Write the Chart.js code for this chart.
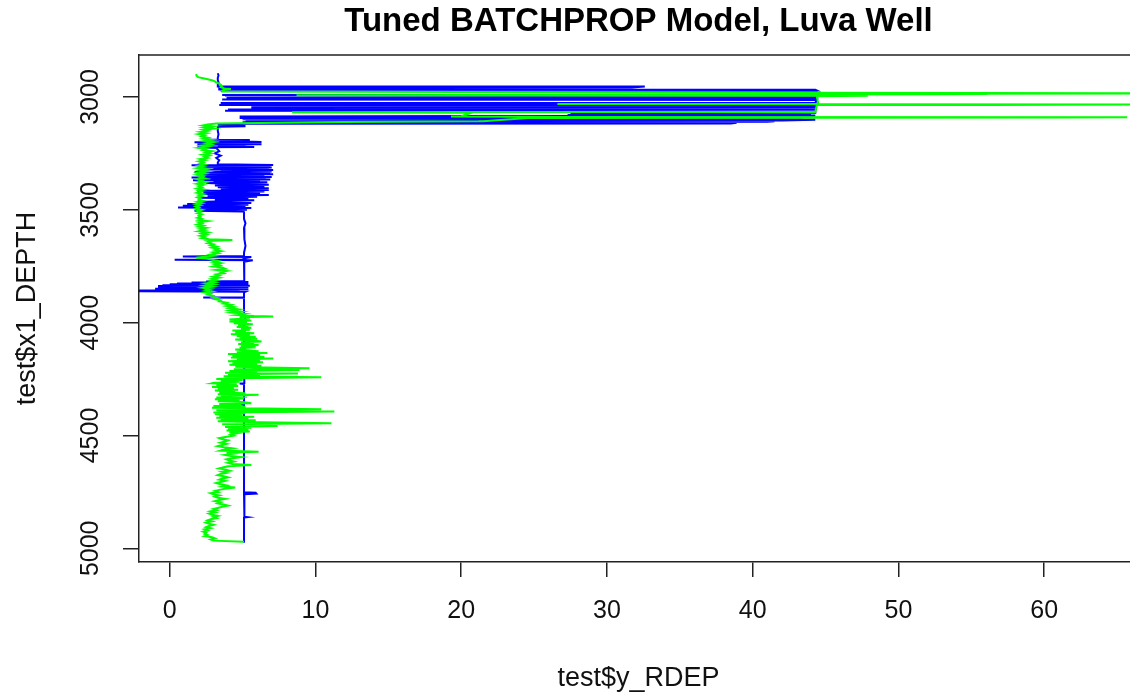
<!DOCTYPE html>
<html><head><meta charset="utf-8">
<script src="https://cdn.jsdelivr.net/npm/chart.js@4.4.1/dist/chart.umd.min.js"></script>
<style>
html,body{margin:0;padding:0;background:#fff;overflow:hidden;}
#wrap{width:1130px;height:695px;overflow:hidden;position:relative;background:#fff;}
canvas{display:block;}
</style></head><body>
<div id="wrap"><canvas id="c" width="1138" height="695"></canvas></div>
<script>
const chartTitle = 'Tuned BATCHPROP Model, Luva Well';
const xLabel = 'test$y_RDEP';
const yLabel = 'test$x1_DEPTH';
const xTicks = [0, 10, 20, 30, 40, 50, 60];
const yTicks = [3000, 3500, 4000, 4500, 5000];

const blueDepth = [
2895,2905,2915,2925,2935,2945,2953,2954,2958,2960,
2967,2968,2971,2972,2973,2980,2990,2991,2993,2995,
2997,2999,3001,3003,3005,3007,3009,3011,3013,3025,
3027,3029,3031,3033,3035,3037,3039,3041,3043,3045,
3047,3049,3051,3053,3055,3057,3059,3061,3063,3070,
3072,3075,3078,3080,3082,3084,3086,3088,3090,3093,
3095,3097,3099,3101,3104,3106,3108,3110,3112,3114,
3117,3119,3122,3125,3127,3130,3132,3150,3165,3180,
3188,3190,3191,3194,3199,3201,3204,3206,3209,3211,
3213,3216,3222,3223,3226,3240,3250,3260,3270,3280,
3290,3298,3301,3303,3306,3309,3312,3315,3318,3321,
3323,3326,3330,3333,3336,3339,3342,3345,3348,3351,
3354,3357,3360,3363,3366,3369,3372,3375,3378,3381,
3385,3389,3392,3396,3400,3404,3408,3412,3415,3419,
3422,3426,3430,3434,3438,3442,3446,3450,3456,3458,
3465,3470,3474,3478,3482,3486,3490,3492,3496,3500,
3504,3507,3510,3540,3560,3580,3600,3630,3660,3690,
3705,3707,3709,3715,3720,3721,3723,3730,3760,3790,
3815,3818,3820,3822,3824,3826,3828,3830,3832,3834,
3836,3838,3840,3842,3844,3846,3848,3850,3852,3854,
3856,3858,3861,3863,3866,3888,3889,3891,3960,3975,
4000,4040,4080,4130,4200,4268,4270,4272,4360,4362,
4364,4500,4600,4700,4752,4754,4758,4760,4800,4860,
4862,4864,4900,4975
];
const blueRdep = [
3.3,3.35,3.3,3.3,3.35,3.3,3.3,32.6,31.7,3.4,
3.4,44.3,44.4,3.5,44.2,44.4,44.5,3.6,44.4,3.8,
44.3,4.2,44.4,3.9,44.5,4.0,44.3,3.6,44.4,44.3,
3.5,44.4,4.5,40.0,3.4,44.4,5.6,44.3,5.8,44.4,
5.6,44.2,5.7,44.4,4.0,42.7,39.5,3.8,44.3,44.3,
27.5,44.0,43.4,27.3,44.3,20.7,4.8,43.4,44.3,4.8,
43.4,31.4,5.0,44.3,42.0,5.2,41.5,41.0,5.0,38.9,
38.5,5.3,3.3,5.2,3.3,5.2,3.3,3.3,3.35,3.3,
3.3,2.7,5.5,3.4,6.3,1.7,6.0,2.0,6.3,1.9,
5.2,3.3,5.8,1.9,3.2,3.4,3.1,3.5,3.2,3.4,
3.3,3.3,7.1,1.5,6.9,2.0,7.0,3.0,6.8,2.2,
7.1,3.5,7.0,1.7,6.9,2.5,7.1,1.9,6.5,2.4,
7.0,1.5,6.6,2.8,6.9,1.6,6.2,3.0,6.7,2.5,
4.0,6.8,3.1,6.5,3.3,6.8,3.5,6.8,1.9,6.5,
2.3,6.2,2.0,6.8,2.6,6.0,2.0,5.4,3.1,5.8,
2.0,5.6,1.2,5.4,0.9,5.2,0.57,5.6,1.8,5.3,
1.7,5.0,5.1,5.1,5.2,5.1,5.15,5.1,5.2,5.1,
5.1,0.9,5.6,5.1,5.2,0.34,5.7,5.1,5.15,5.1,
5.1,2.5,5.4,1.5,5.3,0.5,5.4,0.0,5.2,-0.5,
5.5,-0.8,5.3,-0.6,5.4,-0.8,5.2,-1.0,5.4,-0.5,
4.8,-2.1,-2.1,5.2,5.1,5.1,2.3,5.1,5.1,5.2,
5.1,5.15,5.1,5.15,5.1,5.1,4.8,5.1,5.1,4.8,
5.1,5.1,5.1,5.1,5.1,5.9,5.95,5.1,5.15,5.1,
5.35,5.1,5.1,5.1
];

const greenDepth = [
2899,2906,2912,2917,2921,2926,2931,2936,2941,2946,
2951,2956,2961,2964,2965,2967,2972,2976,2981,2984,
2986,2987,2988,2989,2992,2995,2997,3030,3031,3033,
3035,3036,3066,3067,3068,3070,3085,3086,3088,3089,
3090,3091,3092,3093,3107,3108,3111,3118,3122,3126,
3130,3135,3140,3145,3150,3155,3160,3165,3170,3175,
3180,3185,3190,3195,3200,3205,3210,3215,3220,3225,
3230,3235,3240,3245,3250,3255,3260,3265,3270,3275,
3280,3285,3290,3295,3300,3305,3310,3315,3320,3325,
3330,3335,3340,3345,3350,3355,3360,3365,3370,3375,
3380,3385,3390,3395,3400,3405,3410,3415,3420,3425,
3430,3435,3440,3445,3450,3455,3460,3465,3470,3475,
3480,3485,3490,3495,3500,3505,3510,3515,3520,3525,
3530,3535,3540,3545,3550,3555,3560,3565,3570,3575,
3580,3585,3590,3595,3600,3605,3610,3615,3620,3625,
3630,3634,3638,3643,3648,3653,3658,3663,3668,3673,
3678,3683,3688,3693,3698,3703,3708,3712,3716,3721,
3726,3731,3736,3741,3746,3751,3756,3761,3766,3771,
3776,3781,3786,3791,3796,3801,3806,3811,3816,3821,
3826,3831,3836,3841,3846,3851,3856,3861,3866,3871,
3876,3881,3886,3891,3896,3901,3906,3911,3916,3921,
3926,3931,3936,3941,3946,3951,3956,3961,3966,3971,
3973,3976,3981,3986,3991,3995,3999,4003,4007,4011,
4015,4019,4023,4027,4031,4035,4039,4043,4047,4051,
4055,4059,4063,4067,4071,4075,4079,4083,4087,4091,
4095,4099,4103,4107,4111,4115,4119,4123,4127,4131,
4135,4139,4143,4147,4151,4155,4159,4163,4167,4171,
4175,4179,4183,4187,4191,4195,4199,4202,4206,4210,
4214,4218,4222,4225,4229,4233,4237,4242,4246,4250,
4254,4258,4262,4266,4269,4273,4277,4281,4285,4289,
4293,4297,4301,4305,4309,4313,4317,4320,4324,4328,
4332,4336,4340,4344,4348,4352,4357,4361,4365,4369,
4373,4377,4381,4384,4388,4391,4394,4398,4402,4406,
4410,4414,4417,4421,4425,4429,4433,4437,4441,4446,
4450,4454,4458,4462,4466,4470,4474,4478,4482,4486,
4491,4496,4501,4506,4512,4517,4522,4527,4532,4537,
4542,4547,4552,4557,4562,4567,4572,4576,4581,4586,
4591,4596,4601,4606,4611,4616,4621,4626,4631,4636,
4641,4646,4651,4656,4661,4666,4671,4676,4681,4686,
4691,4696,4701,4706,4711,4716,4721,4726,4731,4736,
4741,4746,4751,4756,4761,4766,4771,4776,4781,4786,
4791,4796,4801,4806,4811,4816,4821,4826,4831,4836,
4841,4846,4851,4856,4861,4866,4871,4876,4881,4886,
4891,4896,4901,4906,4911,4916,4921,4926,4931,4936,
4941,4946,4951,4956,4961,4966,4971
];
const greenRdep = [
1.8,1.85,1.95,2.3,2.6,2.9,3.1,3.2,3.4,3.5,
3.6,3.5,3.7,3.8,4.2,3.8,3.6,3.6,44.4,68.0,
52.2,56.1,52.5,44.6,8.7,47.9,44.4,44.5,26.6,68.0,
56.3,44.4,44.3,20.7,8.4,20.7,20.0,19.3,24.6,27.3,
65.7,61.0,44.2,24.6,21.5,21.2,11.9,3.2,2.6,2.3,
2.9,2.4,3.0,2.3,2.6,2.1,2.5,2.0,2.4,2.2,
2.6,2.3,2.9,2.4,3.0,2.5,2.8,2.2,2.6,2.0,
2.5,2.3,2.9,2.5,2.8,2.3,2.7,2.4,2.6,2.1,
2.4,2.0,2.3,2.1,2.4,2.0,2.3,1.9,2.5,2.1,
2.6,2.0,2.4,1.9,2.3,2.1,2.4,1.9,2.2,2.0,
2.4,1.9,2.3,2.0,2.2,1.9,2.4,2.0,2.2,1.9,
2.3,2.0,2.2,1.9,2.1,2.0,2.3,1.9,2.2,1.8,
2.1,1.8,2.0,1.8,2.2,1.9,2.1,1.9,2.2,2.0,
2.1,1.9,2.2,2.0,2.6,2.0,2.2,1.9,2.3,2.0,
2.5,2.1,2.4,2.0,2.6,2.2,2.5,2.1,2.4,2.2,
2.7,4.3,2.6,2.8,2.6,3.0,2.8,3.2,2.9,3.3,
3.1,3.5,3.0,3.3,2.8,3.1,2.4,1.8,2.5,2.9,
3.3,3.0,3.5,3.1,3.4,3.0,3.6,3.8,3.2,3.9,
3.5,3.7,3.2,3.4,3.0,3.4,2.9,3.2,2.8,3.1,
2.5,3.0,2.4,2.9,2.3,2.8,2.5,2.9,2.4,2.8,
2.6,3.0,2.9,3.3,3.1,3.5,3.4,3.9,3.7,4.2,
3.9,4.4,4.1,4.7,4.2,4.9,4.3,5.1,4.6,5.8,
7.1,4.8,5.5,4.1,5.6,4.1,5.3,4.4,5.7,4.7,
5.4,4.6,5.6,4.9,5.5,4.3,5.2,4.5,5.8,4.2,
5.5,4.6,5.9,4.8,6.0,4.5,5.7,6.3,4.9,5.8,
4.7,6.1,4.9,5.9,4.8,5.3,4.5,5.2,6.1,4.6,
6.7,4.0,6.2,4.3,6.5,4.2,7.1,4.6,6.2,4.0,
6.4,4.3,6.0,4.1,6.3,4.5,6.5,9.6,4.4,8.9,
4.1,6.0,3.8,8.8,4.0,6.2,3.7,10.4,4.5,3.2,
5.0,3.5,4.8,3.1,2.9,4.6,3.2,4.7,2.9,4.4,
3.3,4.7,3.1,4.5,3.4,5.2,3.3,6.1,3.5,5.3,
3.2,5.1,3.1,4.8,3.3,5.0,5.6,3.4,4.9,3.0,
5.2,2.9,6.5,10.4,3.2,5.8,11.3,3.0,5.2,3.1,
5.0,3.4,5.8,3.2,5.4,3.5,5.9,3.3,6.2,11.1,
3.6,6.8,7.4,3.8,5.6,4.0,5.4,3.9,5.5,4.1,
4.6,4.2,4.4,3.9,3.4,3.6,4.0,3.8,3.5,3.9,
3.6,3.3,3.7,4.3,3.8,3.5,6.1,3.9,4.4,3.8,
4.2,4.9,4.3,3.9,4.1,4.4,4.0,4.3,5.6,4.0,
3.7,3.4,3.8,4.1,3.6,3.9,3.5,3.3,3.7,4.0,
3.6,3.4,3.8,3.5,3.2,3.5,3.9,3.6,4.5,3.8,
3.4,3.1,3.3,2.8,3.0,3.4,3.1,3.3,3.8,3.4,
3.1,3.5,3.3,3.7,4.0,3.6,3.3,3.0,3.2,2.8,
3.1,2.7,2.9,3.3,3.0,3.2,2.8,2.6,2.9,2.5,
2.7,3.0,2.7,2.5,2.8,2.4,2.6,2.3,2.5,2.4,
2.6,2.4,2.9,3.1,2.8,3.0,5.1
];

const X_MIN = -2.106, X_MAX = 66.44;
const Y_MIN = 2813.9, Y_MAX = 5060.7;
const FAMILY = "'Liberation Sans', Arial, Helvetica, sans-serif";
const AXIS_COLOR = '#222';
const TEXT_COLOR = '#111';

const toPoints = (depths, vals) => depths.map((d, i) => ({ x: vals[i], y: d }));

const boxPlugin = {
  id: 'box',
  afterDraw(chart) {
    const { ctx, chartArea: a } = chart;
    ctx.save();
    ctx.strokeStyle = AXIS_COLOR;
    ctx.lineWidth = 1.5;
    ctx.beginPath();
    ctx.moveTo(a.left, a.top);
    ctx.lineTo(a.right, a.top);
    ctx.lineTo(a.right, a.bottom);
    ctx.stroke();
    ctx.restore();
  }
};

new Chart(document.getElementById('c'), {
  type: 'scatter',
  data: {
    datasets: [
      { label: 'green', data: toPoints(greenDepth, greenRdep), showLine: true,
        borderColor: '#00ff00', backgroundColor: '#00ff00', borderWidth: 2,
        pointRadius: 0, pointHoverRadius: 0, fill: false, tension: 0 },
      { label: 'blue', data: toPoints(blueDepth, blueRdep), showLine: true,
        borderColor: '#0000ff', backgroundColor: '#0000ff', borderWidth: 2,
        pointRadius: 0, pointHoverRadius: 0, fill: false, tension: 0 }
    ]
  },
  options: {
    responsive: false,
    animation: false,
    devicePixelRatio: 1,
    layout: { padding: 0, autoPadding: false },
    events: [],
    plugins: {
      legend: { display: false },
      tooltip: { enabled: false },
      title: {
        display: true, text: chartTitle, fullSize: false, color: '#000',
        font: { family: FAMILY, size: 33, weight: 'bold', lineHeight: 1.2 },
        padding: { top: 2, bottom: 13.4 }
      }
    },
    scales: {
      x: {
        type: 'linear', position: 'bottom', min: X_MIN, max: X_MAX,
        afterBuildTicks: s => { s.ticks = xTicks.map(v => ({ value: v })); },
        afterFit: s => { s.height = 133; },
        ticks: { autoSkip: false, minRotation: 0, maxRotation: 0, padding: 19,
          color: TEXT_COLOR, font: { family: FAMILY, size: 25 }, callback: v => String(v) },
        grid: { drawOnChartArea: false, drawTicks: true, tickLength: 15,
          color: AXIS_COLOR, tickColor: AXIS_COLOR, lineWidth: 1.5, tickWidth: 1.5 },
        border: { display: true, color: AXIS_COLOR, width: 1.5 },
        title: { display: true, text: xLabel, color: TEXT_COLOR,
          font: { family: FAMILY, size: 27, lineHeight: 1.2 }, padding: { top: 0, bottom: 0 } }
      },
      y: {
        type: 'linear', position: 'left', reverse: true, min: Y_MIN, max: Y_MAX,
        afterBuildTicks: s => { s.ticks = yTicks.map(v => ({ value: v })); },
        afterFit: s => { s.width = 139; },
        ticks: { autoSkip: false, minRotation: 90, maxRotation: 90, crossAlign: 'center', padding: 4,
          color: TEXT_COLOR, font: { family: FAMILY, size: 25 }, callback: v => String(v) },
        grid: { drawOnChartArea: false, drawTicks: true, tickLength: 16,
          color: AXIS_COLOR, tickColor: AXIS_COLOR, lineWidth: 1.5, tickWidth: 1.5 },
        border: { display: true, color: AXIS_COLOR, width: 1.5 },
        title: { display: true, text: yLabel, color: TEXT_COLOR,
          font: { family: FAMILY, size: 27, lineHeight: 1.2 }, padding: { top: 11, bottom: 0 } }
      }
    }
  },
  plugins: [boxPlugin]
});
</script>
</body></html>
